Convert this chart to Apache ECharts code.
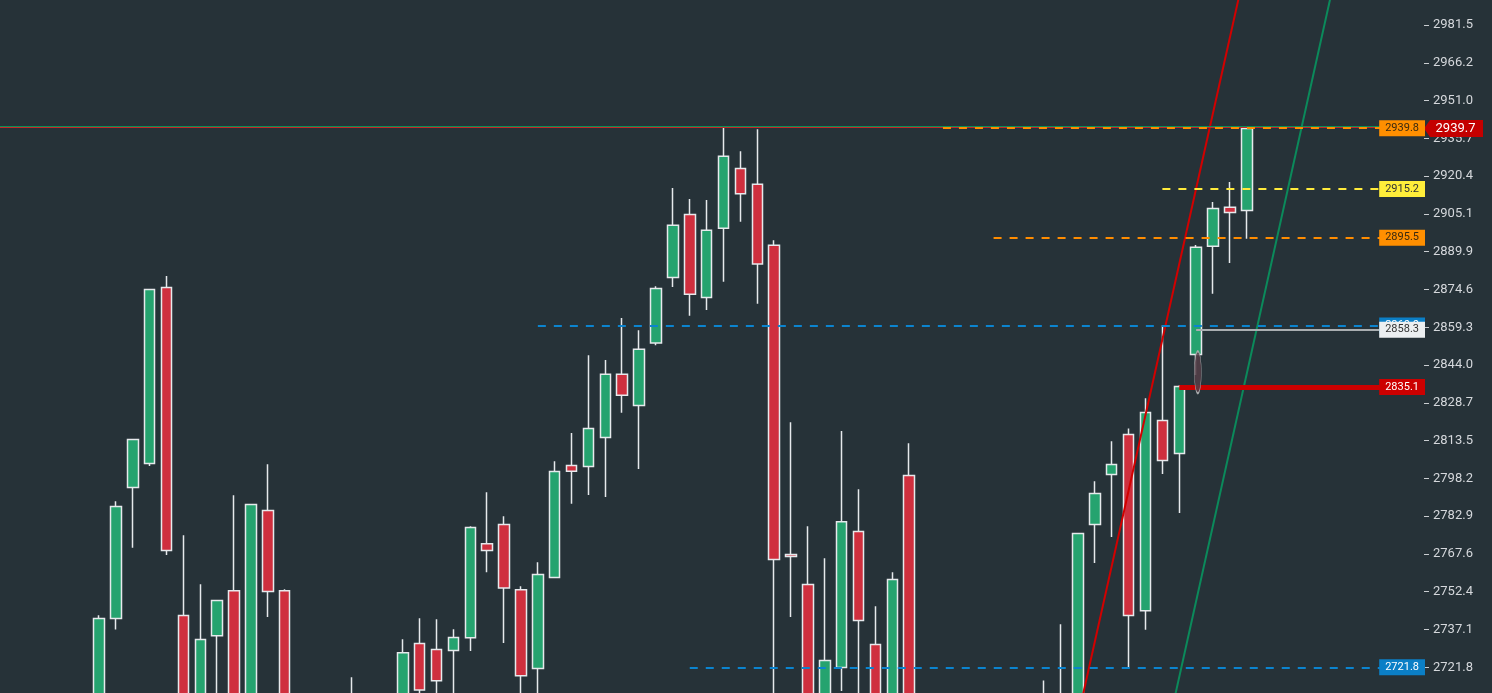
<!DOCTYPE html>
<html>
<head>
<meta charset="utf-8">
<style>
  html, body { margin: 0; padding: 0; background: #263238; }
  #chart { width: 1492px; height: 693px; }
</style>
</head>
<body>
<div id="chart"></div>
<script src="https://cdn.jsdelivr.net/npm/echarts@6.0.0/dist/echarts.min.js"></script>
<script>
// candle values, index 0 = first candle seen on the left
const opens = [2705.0, 2741.5, 2794.5, 2804.2, 2875.4, 2742.7, 2700.0, 2734.6, 2752.8, 2700.0,
  2785.2, 2752.8, 2703.0, 2692.0, 2698.0, 2690.0, 2702.0, 2695.0, 2704.0, 2731.4,
  2729.0, 2728.6, 2733.7, 2771.8, 2779.5, 2753.2, 2721.3, 2758.1, 2803.4, 2803.0,
  2814.7, 2840.3, 2827.7, 2852.9, 2879.4, 2904.9, 2871.3, 2899.3, 2923.5, 2917.1,
  2892.4, 2767.4, 2755.3, 2703.0, 2721.7, 2776.7, 2731.0, 2702.0, 2799.3, 2704.0,
  2694.0, 2700.0, 2690.0, 2696.0, 2688.0, 2698.0, 2692.0, 2704.0, 2700.0, 2779.5,
  2799.8, 2815.9, 2744.7, 2821.6, 2808.2, 2848.3, 2892.0, 2907.8, 2906.5];
const closes = [2741.5, 2786.8, 2813.9, 2874.6, 2769.0, 2702.0, 2733.0, 2748.8, 2703.0, 2787.6,
  2752.4, 2704.0, 2692.0, 2698.0, 2690.0, 2702.0, 2695.0, 2704.0, 2727.7, 2712.6,
  2716.4, 2733.8, 2778.3, 2769.0, 2753.9, 2718.4, 2759.3, 2801.0, 2801.1, 2818.4,
  2840.3, 2831.8, 2850.4, 2875.0, 2900.5, 2872.6, 2898.5, 2928.4, 2913.3, 2884.9,
  2765.4, 2766.6, 2705.0, 2724.5, 2780.7, 2740.7, 2704.0, 2757.3, 2704.0, 2694.0,
  2700.0, 2690.0, 2696.0, 2688.0, 2698.0, 2692.0, 2704.0, 2700.0, 2775.9, 2792.1,
  2803.8, 2742.7, 2824.8, 2805.4, 2835.3, 2891.6, 2907.3, 2905.7, 2939.7];
const lows = [2700.0, 2737.1, 2770.1, 2803.2, 2767.2, 2696.0, 2695.0, 2705.0, 2698.0, 2696.0,
  2742.1, 2698.0, 2686.0, 2684.0, 2682.0, 2686.0, 2688.0, 2690.0, 2700.0, 2706.0,
  2706.0, 2706.0, 2728.4, 2760.2, 2731.6, 2706.0, 2706.0, 2758.1, 2787.9, 2791.5,
  2790.7, 2824.7, 2802.0, 2852.0, 2875.6, 2863.9, 2866.3, 2877.7, 2901.9, 2868.8,
  2705.0, 2742.1, 2700.0, 2698.0, 2712.2, 2706.0, 2698.0, 2697.0, 2698.0, 2688.0,
  2686.0, 2684.0, 2682.0, 2680.0, 2684.0, 2686.0, 2688.0, 2694.0, 2696.0, 2764.0,
  2774.5, 2721.7, 2737.0, 2800.0, 2784.2, 2840.0, 2872.8, 2885.3, 2895.1];
const highs = [2742.8, 2788.9, 2814.0, 2874.7, 2880.0, 2775.2, 2755.4, 2748.8, 2791.4, 2787.6,
  2803.9, 2753.4, 2707.0, 2704.0, 2706.0, 2717.8, 2708.0, 2709.0, 2733.1, 2741.6,
  2741.2, 2737.2, 2778.8, 2792.6, 2782.9, 2754.6, 2764.3, 2805.1, 2816.5, 2848.0,
  2846.0, 2863.0, 2858.1, 2875.9, 2915.6, 2911.1, 2910.7, 2940.6, 2930.5, 2939.4,
  2894.5, 2820.9, 2778.8, 2765.9, 2817.3, 2793.8, 2746.5, 2760.2, 2812.4, 2708.0,
  2705.0, 2704.0, 2702.0, 2701.0, 2706.0, 2709.0, 2716.5, 2739.2, 2775.9, 2797.0,
  2813.2, 2818.4, 2830.6, 2860.1, 2835.9, 2892.5, 2909.9, 2918.0, 2939.8];

// right axis
const yTickLabels = ['2721.8', '2737.1', '2752.4', '2767.6', '2782.9', '2798.2', '2813.5', '2828.7', '2844.0',
  '2859.3', '2874.6', '2889.9', '2905.1', '2920.4', '2935.7', '2951.0', '2966.2', '2981.5'];
const yTickStart = 2721.8;
const yTickStep = 15.2765;

// horizontal levels and the candle they start from
const levelPrices = [2939.8, 2915.2, 2895.5, 2860.0, 2858.3, 2835.1, 2721.8];
const levelStarts = [50, 63, 53, 26, 65, 64, 35];

const lastPrice = 2939.7;
const greenLinePrice = 2940.5;
const redLinePrice = 2940.1;
// trend lines [candle, price]
const redTrend = [[58, 2701.7], [68, 3007.0]];
const greenTrend = [[62, 2656.6], [74, 3024.5]];
const ellipseMark = [65.1, 2841.1];

const xMin = -5.865;
const xMax = 78.5;
const yMin = yTickStart - yTickStep;
const yMax = yTickStart + 18 * yTickStep;

const chart = echarts.init(document.getElementById('chart'));

const levelStyles = [
  { line: '#ff8c00', type: [8, 8], width: 2, bg: '#ff8f00', text: '#3a2a10' },
  { line: '#ffeb3b', type: [8, 8], width: 2, bg: '#ffee3a', text: '#333333' },
  { line: '#ff8c00', type: [8, 8], width: 2, bg: '#ff8f00', text: '#3a2a10' },
  { line: '#0b84cf', type: [8, 8], width: 2, bg: '#0b7fc6', text: '#ffffff' },
  { line: '#a9aeb1', type: 'solid', width: 2, bg: '#eceff1', text: '#333333' },
  { line: '#cc0000', type: 'solid', width: 5, bg: '#cc0000', text: '#ffffff' },
  { line: '#0b84cf', type: [8, 8], width: 2, bg: '#0b7fc6', text: '#ffffff' }
];

const levelLines = levelPrices.map((p, k) => {
  const s = levelStyles[k];
  return [
    {
      coord: [levelStarts[k], p],
      lineStyle: { color: s.line, type: s.type, width: s.width },
      label: {
        show: true,
        position: 'insideEnd',
        distance: -1,
        formatter: p.toFixed(1),
        backgroundColor: s.bg,
        color: s.text,
        fontSize: 11,
        fontFamily: 'Roboto',
        lineHeight: 14,
        padding: [1, 6]
      }
    },
    { coord: [xMax, p] }
  ];
});

const option = {
  backgroundColor: '#263238',
  animation: false,
  grid: {
    left: 0,
    right: 68,
    top: -12.78,
    bottom: -12.08,
    containLabel: false,
    outerBoundsMode: 'none'
  },
  xAxis: {
    type: 'value',
    min: xMin,
    max: xMax,
    show: false,
    splitLine: { show: false }
  },
  yAxis: {
    type: 'value',
    position: 'right',
    min: yMin,
    max: yMax,
    interval: yTickStep,
    scale: true,
    axisLine: { show: false, onZero: false },
    axisTick: { show: true, length: 5, lineStyle: { color: '#c9cdd1' } },
    splitLine: { show: false },
    axisLabel: {
      margin: 9,
      padding: [3, 0, 0, 0],
      color: '#d5d8dc',
      fontSize: 13,
      fontFamily: 'Roboto',
      showMinLabel: false,
      showMaxLabel: false,
      formatter: (v) => {
        const k = Math.round((v - yTickStart) / yTickStep);
        return yTickLabels[k] || '';
      }
    }
  },
  series: [
    {
      type: 'candlestick',
      barWidth: 11,
      dimensions: ['idx', 'open', 'close', 'low', 'high'],
      encode: { x: 'idx', y: ['open', 'close', 'low', 'high'] },
      data: opens.map((o, i) => [i, o, closes[i], lows[i], highs[i]]),
      itemStyle: {
        color: '#25a36f',
        color0: '#cf2f3e',
        borderColor: '#e6e9ec',
        borderColor0: '#e6e9ec',
        borderWidth: 1.5
      }
    },
    {
      type: 'line',
      data: [],
      silent: true,
      markLine: {
        silent: true,
        symbol: ['none', 'none'],
        animation: false,
        data: [
          [
            { coord: [xMin, redLinePrice], lineStyle: { color: '#c62828', width: 1, type: 'solid' }, label: { show: false } },
            { coord: [xMax, redLinePrice] }
          ],
          [
            { coord: [xMin, greenLinePrice], lineStyle: { color: '#0b8f57', width: 1, type: 'solid' }, label: { show: false } },
            { coord: [xMax, greenLinePrice] }
          ],
          ...levelLines
        ]
      }
    },
    {
      type: 'line',
      data: redTrend,
      showSymbol: false,
      silent: true,
      lineStyle: { color: '#d10000', width: 2 }
    },
    {
      type: 'line',
      data: greenTrend,
      showSymbol: false,
      silent: true,
      lineStyle: { color: '#0b8a5b', width: 2 }
    },
    {
      type: 'line',
      data: [],
      silent: true,
      z: 5,
      markPoint: {
        silent: true,
        animation: false,
        data: [
          {
            coord: [xMax, lastPrice],
            symbol: 'path://M0,8.5 L6,0 L59,0 L59,17 L6,17 Z',
            symbolSize: [59, 17],
            symbolOffset: [29.5, 0],
            itemStyle: { color: '#c40000' },
            label: {
              show: true,
              position: 'inside',
              offset: [2, 0],
              formatter: lastPrice.toFixed(1),
              color: '#ffffff',
              fontSize: 13,
              fontFamily: 'Roboto'
            }
          },
          {
            coord: ellipseMark,
            symbol: 'path://M0,50 A50,50 0 1,0 100,50 A50,50 0 1,0 0,50 Z',
            symbolSize: [7, 42],
            itemStyle: { color: 'rgba(85,62,72,0.85)', borderColor: '#a7a9ab', borderWidth: 1 },
            label: { show: false }
          }
        ]
      }
    }
  ]
};

chart.setOption(option);
</script>
</body>
</html>
